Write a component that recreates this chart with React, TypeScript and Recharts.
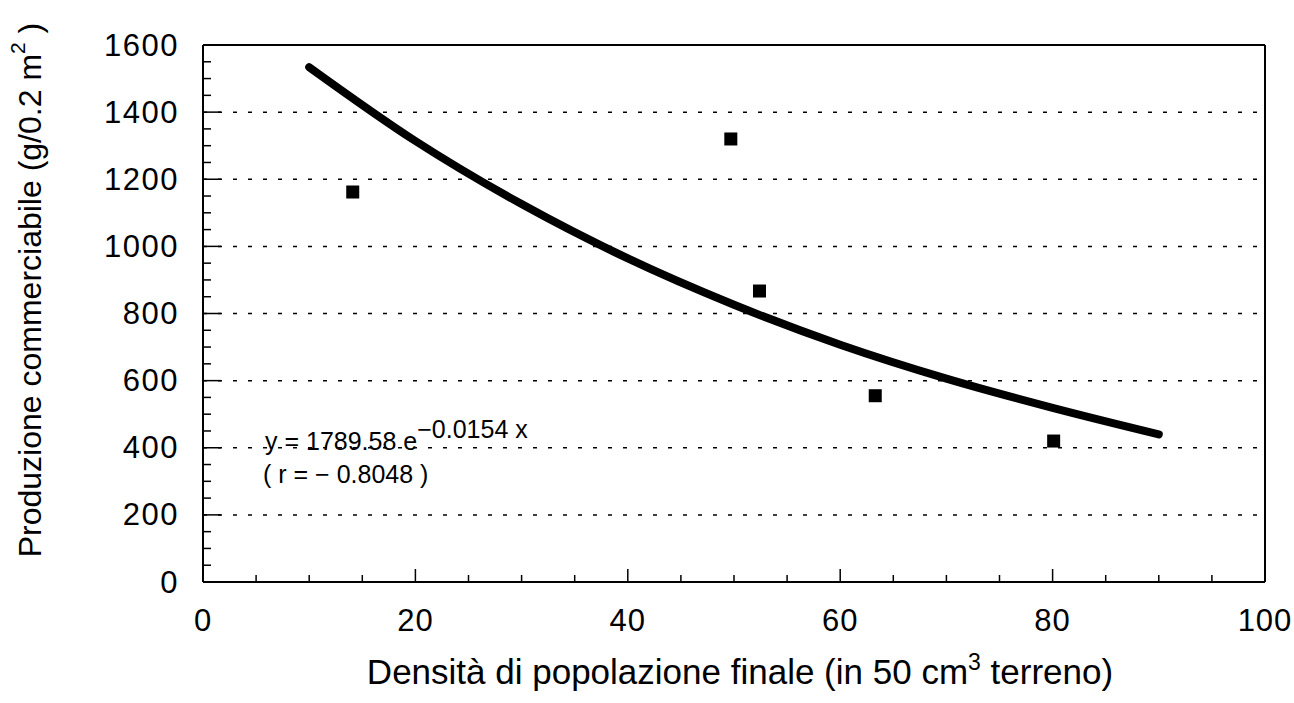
import React from 'react';
import { ComposedChart, Scatter, Line, XAxis, YAxis, ReferenceLine } from 'recharts';

// observed points (density, yield)
const observed = [
  { x: 14.1, y: 1162 },
  { x: 49.7, y: 1320 },
  { x: 52.4, y: 867 },
  { x: 63.3, y: 555 },
  { x: 80.1, y: 420 },
];

// fitted exponential curve
const fitted = [
  { x: 10, y: 1534 },
  { x: 20, y: 1314 },
  { x: 30, y: 1126 },
  { x: 40, y: 964 },
  { x: 50, y: 826 },
  { x: 60, y: 707 },
  { x: 70, y: 606 },
  { x: 80, y: 519 },
  { x: 90, y: 440 },
];

const xTicks = [0, 5, 10, 15, 20, 25, 30, 35, 40, 45, 50, 55, 60, 65, 70, 75, 80, 85, 90, 95, 100];
const xLabels = [0, 20, 40, 60, 80, 100];
const yTicks = [
  0, 50, 100, 150, 200, 250, 300, 350, 400, 450, 500, 550, 600, 650, 700, 750, 800,
  850, 900, 950, 1000, 1050, 1100, 1150, 1200, 1250, 1300, 1350, 1400, 1450, 1500, 1550, 1600,
];
const yLabels = [0, 200, 400, 600, 800, 1000, 1200, 1400, 1600];
const gridValues = [200, 400, 600, 800, 1000, 1200, 1400];

const FONT = '"Liberation Sans", Arial, Helvetica, sans-serif';

const YTick = (props: any) => {
  const { x, y, payload } = props;
  const v = payload.value;
  const major = yLabels.includes(v);
  return (
    <g>
      <line x1={x} x2={x + (major ? 18 : 8)} y1={y} y2={y} stroke="#000" strokeWidth={1.5} />
      {major && (
        <text x={x - 24} y={y} textAnchor="end" dominantBaseline="central" fontSize={31} letterSpacing={1.5} fontFamily={FONT} fill="#000">
          {v}
        </text>
      )}
    </g>
  );
};

const XTick = (props: any) => {
  const { x, y, payload } = props;
  const v = payload.value;
  const major = xLabels.includes(v);
  return (
    <g>
      <line x1={x} x2={x} y1={y} y2={y - (major ? 13 : 7)} stroke="#000" strokeWidth={1.5} />
      {major && (
        <text x={x} y={y + 38} textAnchor="middle" dominantBaseline="central" fontSize={31} letterSpacing={1} fontFamily={FONT} fill="#000">
          {v}
        </text>
      )}
    </g>
  );
};

const Square = (props: any) => {
  const { cx, cy } = props;
  return <rect x={cx - 6.5} y={cy - 6.5} width={13} height={13} fill="#000" />;
};

export default function App() {
  return (
    <div style={{ position: 'relative', width: 1294, height: 703, background: '#fff' }}>
      <style>{`body{margin:0}`}</style>
      <ComposedChart width={1294} height={703} margin={{ top: 45, right: 29, left: 123, bottom: 61 }}>
        <XAxis
          dataKey="x"
          type="number"
          domain={[0, 100]}
          ticks={xTicks}
          interval={0}
          tickSize={0}
          tickMargin={0}
          tickLine={false}
          tick={<XTick />}
          height={60}
          axisLine={{ stroke: '#000', strokeWidth: 2 }}
          allowDataOverflow
        />
        <YAxis
          type="number"
          domain={[0, 1600]}
          ticks={yTicks}
          interval={0}
          tickSize={0}
          tickMargin={0}
          tickLine={false}
          tick={<YTick />}
          width={80}
          axisLine={{ stroke: '#000', strokeWidth: 2 }}
          allowDataOverflow
        />
        {gridValues.map((v) => (
          <ReferenceLine key={v} y={v} stroke="#000" strokeWidth={1.5} strokeDasharray="4 11" />
        ))}
        <ReferenceLine y={1600} stroke="#000" strokeWidth={2} />
        <ReferenceLine x={100} stroke="#000" strokeWidth={2} />
        <Line
          data={fitted}
          dataKey="y"
          type="monotone"
          stroke="#000"
          strokeWidth={8}
          strokeLinecap="round"
          dot={false}
          activeDot={false}
          isAnimationActive={false}
        />
        <Scatter data={observed} dataKey="y" shape={<Square />} isAnimationActive={false} />
      </ComposedChart>
      <svg width={1294} height={703} style={{ position: 'absolute', left: 0, top: 0, pointerEvents: 'none' }}>
        <text
          transform="translate(30 290) rotate(-90)"
          textAnchor="middle"
          dominantBaseline="central"
          fontSize={32}
          fontFamily={FONT}
          fill="#000"
        >
          Produzione commerciabile (g/0.2 m<tspan dy={-13} fontSize={21}>2</tspan>
          <tspan dy={13}> )</tspan>
        </text>
        <text x={740} y={684} textAnchor="middle" fontSize={35} fontFamily={FONT} fill="#000">
          Densità di popolazione finale (in 50 cm<tspan dy={-14} fontSize={23}>3</tspan>
          <tspan dy={14}>  terreno)</tspan>
        </text>
        <text x={265} y={450} fontSize={25} fontFamily={FONT} fill="#000">
          y = 1789.58  e<tspan dy={-12}>−0.0154 x</tspan>
        </text>
        <text x={263} y={483} fontSize={25} fontFamily={FONT} fill="#000">
          ( r = − 0.8048 )
        </text>
      </svg>
    </div>
  );
}
